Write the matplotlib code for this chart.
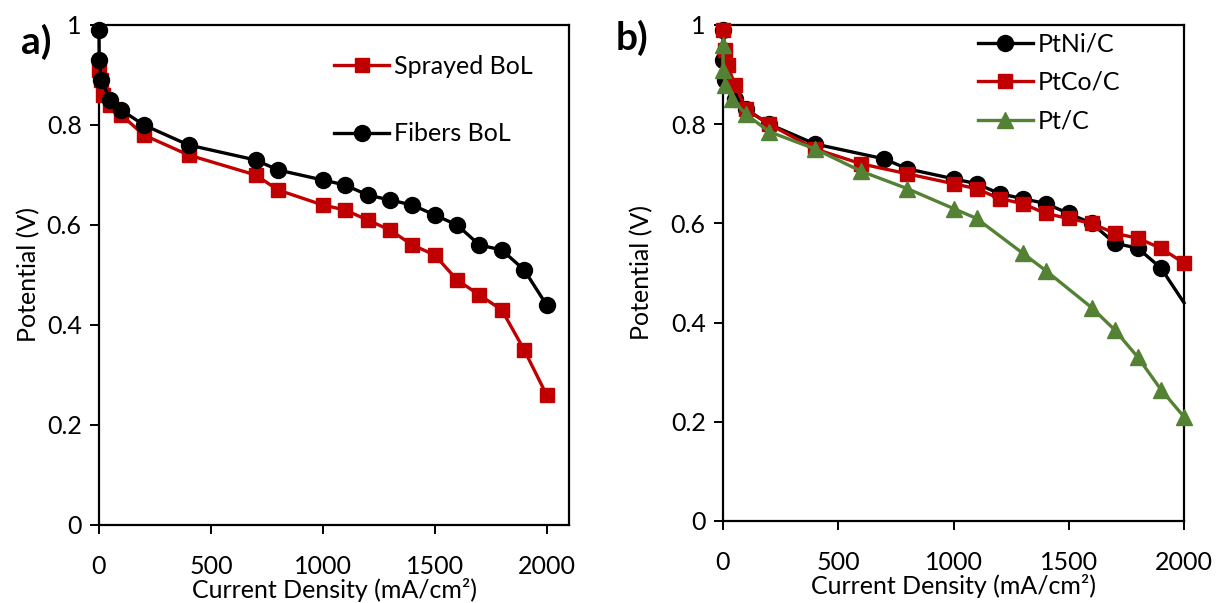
import numpy as np
import matplotlib
matplotlib.use('Agg')
import matplotlib.pyplot as plt

plt.rcParams['font.family'] = ['Lato', 'DejaVu Sans']

# panel a) data
x_sprayed = [0, 10, 20, 50, 100, 200, 400, 700, 800, 1000, 1100, 1200, 1300, 1400, 1500, 1600, 1700, 1800, 1900, 2000]
y_sprayed = [0.91, 0.89, 0.86, 0.84, 0.82, 0.78, 0.74, 0.70, 0.67, 0.64, 0.63, 0.61, 0.59, 0.56, 0.54, 0.49, 0.46, 0.43, 0.35, 0.26]
x_fibers = [0, 1, 10, 50, 100, 200, 400, 700, 800, 1000, 1100, 1200, 1300, 1400, 1500, 1600, 1700, 1800, 1900, 2000]
y_fibers = [0.99, 0.93, 0.89, 0.85, 0.83, 0.80, 0.76, 0.73, 0.71, 0.69, 0.68, 0.66, 0.65, 0.64, 0.62, 0.60, 0.56, 0.55, 0.51, 0.44]

# panel b) data
x_ptni = x_fibers
y_ptni = y_fibers
x_ptco = [0, 10, 20, 50, 100, 200, 400, 600, 800, 1000, 1100, 1200, 1300, 1400, 1500, 1600, 1700, 1800, 1900, 2000]
y_ptco = [0.99, 0.95, 0.92, 0.88, 0.83, 0.80, 0.75, 0.72, 0.70, 0.68, 0.67, 0.65, 0.64, 0.62, 0.61, 0.60, 0.58, 0.57, 0.55, 0.52]
x_pt = [0, 1, 10, 40, 100, 200, 400, 600, 800, 1000, 1100, 1300, 1400, 1600, 1700, 1800, 1900, 2000]
y_pt = [0.96, 0.91, 0.88, 0.85, 0.82, 0.785, 0.75, 0.705, 0.67, 0.63, 0.61, 0.54, 0.505, 0.43, 0.385, 0.33, 0.265, 0.21]

RED = '#C00000'
GREEN = '#548235'
FS = 18

fig = plt.figure(figsize=(12.17, 6.03), dpi=100)
W, H = 1217, 603
ax1 = fig.add_axes([99 / W, (H - 525) / H, (569 - 99) / W, (525 - 25) / H])
ax2 = fig.add_axes([723 / W, (H - 521) / H, (1184 - 723) / W, (521 - 25) / H])

lw = 2.4
ax1.plot(x_sprayed, y_sprayed, color=RED, marker='s', lw=lw, ms=10.5, label='Sprayed BoL', clip_on=False, zorder=3)
ax1.plot(x_fibers, y_fibers, color='black', marker='o', lw=lw, ms=11.5, label='Fibers BoL', clip_on=False, zorder=4)
ax1.set_xlim(0, 2100)

# last PtNi/C marker is not shown in the original, only the line reaches it
ax2.plot(x_ptni, y_ptni, color='black', marker='o', lw=lw, ms=11.5, label='PtNi/C',
         markevery=list(range(len(x_ptni) - 1)), clip_on=False, zorder=3)
ax2.plot(x_ptco, y_ptco, color=RED, marker='s', lw=lw, ms=10.5, label='PtCo/C', clip_on=False, zorder=4)
ax2.plot(x_pt, y_pt, color=GREEN, marker='^', lw=lw, ms=11.5, label='Pt/C', clip_on=False, zorder=5)
ax2.set_xlim(0, 2000)

for ax in (ax1, ax2):
    ax.set_ylim(0, 1)
    ax.set_xticks([0, 500, 1000, 1500, 2000])
    ax.set_yticks([0, 0.2, 0.4, 0.6, 0.8, 1])
    ax.set_yticklabels(['0', '0.2', '0.4', '0.6', '0.8', '1'])
    ax.tick_params(axis='both', labelsize=FS, direction='out', length=6.5, width=1.4)
    ax.tick_params(axis='x', pad=15)
    ax.tick_params(axis='y', pad=6)
    for sp in ax.spines.values():
        sp.set_linewidth(1.6)
    ax.set_xlabel('Current Density (mA/cm²)', fontsize=FS)
    ax.set_ylabel('Potential (V)', fontsize=FS)
    ax.xaxis.set_label_coords(0.5, -0.106)

ax1.yaxis.set_label_coords(-0.124, 0.5)
ax2.yaxis.set_label_coords(-0.152, 0.5)

ax1.legend(loc='upper left', bbox_to_anchor=(0.50, 0.94), frameon=False, fontsize=FS,
           labelspacing=1.77, handlelength=2.2, handletextpad=0.2, borderpad=0, borderaxespad=0)
ax2.legend(loc='upper left', bbox_to_anchor=(0.553, 0.985), frameon=False, fontsize=FS,
           labelspacing=0.62, handlelength=2.2, handletextpad=0.2, borderpad=0, borderaxespad=0)

fig.text(21 / W, 1 - 42 / H, 'a)', fontsize=28, fontweight='bold', va='center')
fig.text(616 / W, 1 - 38 / H, 'b)', fontsize=28, fontweight='bold', va='center')

fig.savefig('out.png', dpi=100)
